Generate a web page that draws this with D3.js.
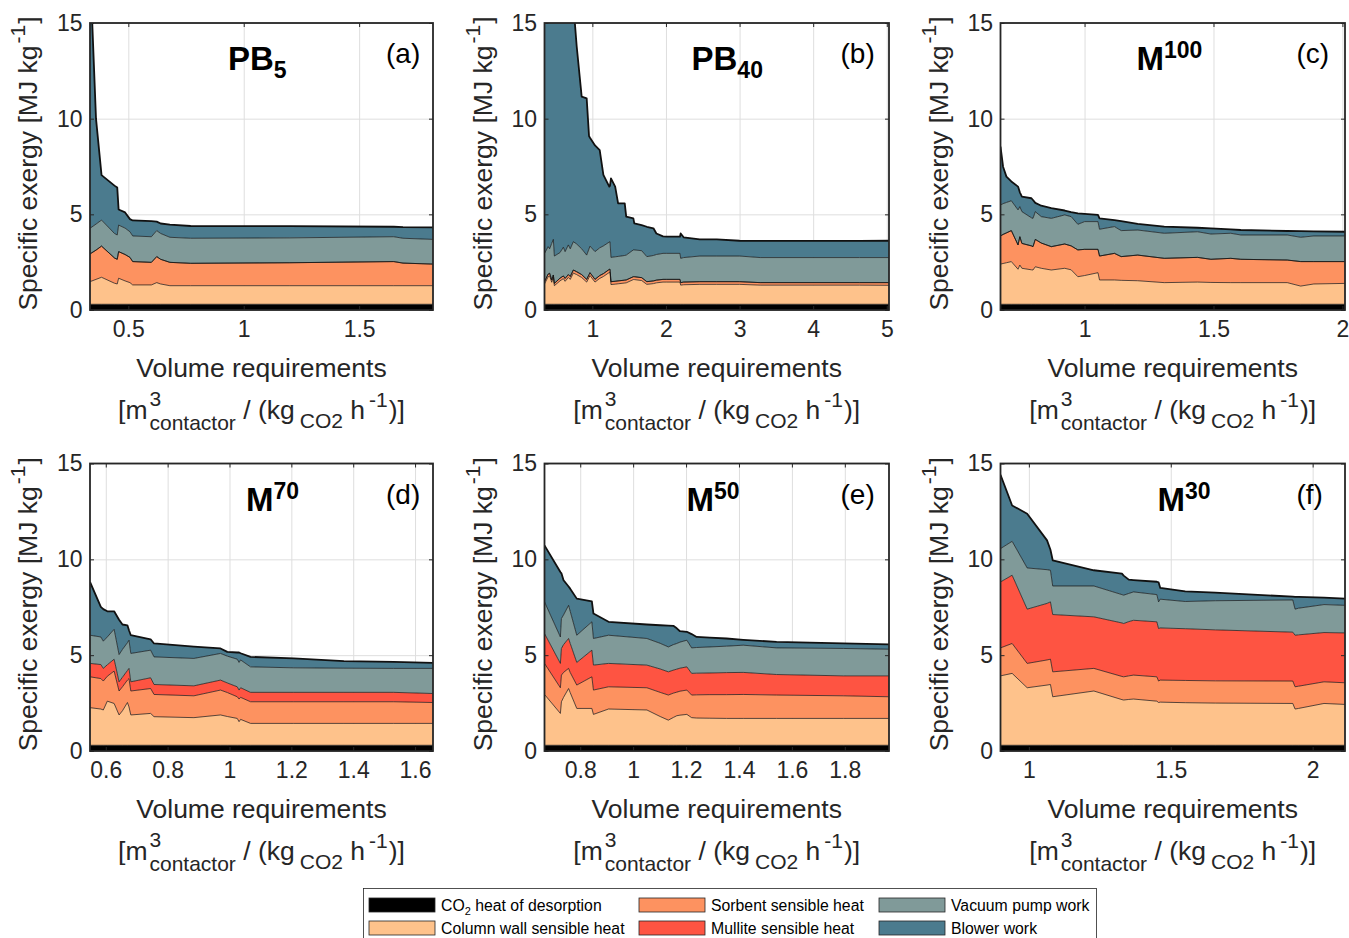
<!DOCTYPE html>
<html>
<head>
<meta charset="utf-8">
<script src="https://cdn.jsdelivr.net/npm/d3@7"></script>
<style>
  html, body { margin: 0; padding: 0; background: #fff; }
  svg { display: block; font-family: "Liberation Sans", Arial, Helvetica, sans-serif; }
</style>
</head>
<body>
<svg id="fig" width="1349" height="938"></svg>
<script>
// ---------- Stacked exergy components [MJ kg-1] vs. volume requirement ----------

// (a) PB5
const aX    = [0.334, 0.36, 0.384, 0.44, 0.452, 0.458, 0.486, 0.507, 0.519, 0.60, 0.623, 0.64, 0.68, 0.77, 1.2, 1.65, 1.69, 1.82];
const aCo2  = [0.3, 0.3, 0.3, 0.3, 0.3, 0.3, 0.3, 0.3, 0.3, 0.3, 0.3, 0.3, 0.3, 0.3, 0.3, 0.3, 0.3, 0.3];
const aWall = [1.18, 1.30, 1.41, 1.10, 1.06, 1.36, 1.22, 1.13, 1.01, 1.01, 1.13, 1.06, 0.97, 0.97, 0.97, 0.97, 0.97, 0.97];
const aSorb = [1.45, 1.53, 1.63, 1.32, 1.29, 1.39, 1.38, 1.32, 1.22, 1.18, 1.36, 1.29, 1.22, 1.17, 1.20, 1.26, 1.18, 1.13];
const aMull = [0, 0, 0, 0, 0, 0, 0, 0, 0, 0, 0, 0, 0, 0, 0, 0, 0, 0];
const aVac  = [1.34, 1.36, 1.36, 1.28, 1.27, 1.39, 1.38, 1.34, 1.34, 1.34, 1.36, 1.35, 1.31, 1.31, 1.30, 1.30, 1.30, 1.29];
const aBlow = [13.73, 5.51, 2.35, 2.5, 2.48, 0.81, 0.82, 0.66, 0.81, 0.81, 0.47, 0.52, 0.66, 0.64, 0.61, 0.52, 0.58, 0.63];

// (b) PB40
const bX    = [0.35, 0.40, 0.42, 0.448, 0.47, 0.484, 0.56, 0.606, 0.63, 0.674, 0.70, 0.742, 0.787, 0.855, 0.923, 0.955, 0.968, 1.036, 1.10, 1.15, 1.23, 1.24, 1.253, 1.31, 1.35, 1.44, 1.46, 1.557, 1.57, 1.67, 1.74, 1.83, 1.87, 1.96, 2.01, 2.19, 2.20, 2.24, 2.46, 2.69, 3.0, 3.28, 4.63, 5.03];
const bCo2  = [0.3, 0.3, 0.3, 0.3, 0.3, 0.3, 0.3, 0.3, 0.3, 0.3, 0.3, 0.3, 0.3, 0.3, 0.3, 0.3, 0.3, 0.3, 0.3, 0.3, 0.3, 0.3, 0.3, 0.3, 0.3, 0.3, 0.3, 0.3, 0.3, 0.3, 0.3, 0.3, 0.3, 0.3, 0.3, 0.3, 0.3, 0.3, 0.3, 0.3, 0.3, 0.3, 0.3, 0.3];
const bWall = [1.06, 1.44, 1.48, 1.15, 1.40, 0.97, 1.22, 1.34, 1.20, 1.40, 1.30, 1.63, 1.55, 1.40, 1.16, 1.40, 1.50, 1.16, 1.35, 1.45, 1.66, 1.67, 1.03, 1.05, 1.07, 1.11, 1.12, 1.29, 1.29, 1.24, 1.04, 1.08, 1.12, 1.16, 1.16, 1.16, 1.00, 1.02, 1.04, 1.04, 1.04, 1.00, 1.00, 0.99];
const bSorb = [0.12, 0.14, 0.14, 0.12, 0.13, 0.12, 0.14, 0.14, 0.15, 0.15, 0.15, 0.16, 0.15, 0.15, 0.14, 0.15, 0.15, 0.14, 0.15, 0.15, 0.16, 0.16, 0.15, 0.15, 0.15, 0.15, 0.15, 0.15, 0.15, 0.15, 0.14, 0.14, 0.14, 0.14, 0.14, 0.14, 0.13, 0.14, 0.14, 0.14, 0.14, 0.13, 0.13, 0.14];
const bMull = [0, 0, 0, 0, 0, 0, 0, 0, 0, 0, 0, 0, 0, 0, 0, 0, 0, 0, 0, 0, 0, 0, 0, 0, 0, 0, 0, 0, 0, 0, 0, 0, 0, 0, 0, 0, 0, 0, 0, 0, 0, 0, 0, 0];
const bVac  = [1.48, 1.43, 1.28, 1.91, 1.86, 1.43, 1.34, 1.50, 1.40, 1.55, 1.45, 1.48, 1.45, 1.35, 1.27, 1.35, 1.39, 1.45, 1.45, 1.45, 1.43, 1.44, 1.27, 1.28, 1.28, 1.29, 1.30, 1.40, 1.40, 1.41, 1.31, 1.33, 1.34, 1.36, 1.36, 1.36, 1.27, 1.28, 1.34, 1.34, 1.34, 1.31, 1.31, 1.31];
const bBlow = [27.04, 23.69, 22.8, 21.52, 20.31, 20.68, 18.0, 16.72, 16.45, 15.6, 14.8, 12.43, 10.35, 7.95, 8.19, 5.89, 5.66, 5.55, 5.11, 3.71, 2.90, 2.93, 4.13, 3.67, 2.77, 2.72, 2.01, 1.65, 1.39, 1.34, 1.56, 1.42, 1.10, 0.89, 0.87, 0.87, 1.30, 1.06, 0.87, 0.87, 0.80, 0.87, 0.87, 0.88];

// (c) M100
const cX    = [0.674, 0.684, 0.697, 0.716, 0.742, 0.749, 0.757, 0.794, 0.80, 0.809, 0.832, 0.871, 0.923, 0.948, 0.974, 1.0, 1.052, 1.058, 1.116, 1.142, 1.206, 1.309, 1.438, 1.49, 1.567, 1.606, 1.786, 1.838, 1.889, 2.01];
const cCo2  = [0.3, 0.3, 0.3, 0.3, 0.3, 0.3, 0.3, 0.3, 0.3, 0.3, 0.3, 0.3, 0.3, 0.3, 0.3, 0.3, 0.3, 0.3, 0.3, 0.3, 0.3, 0.3, 0.3, 0.3, 0.3, 0.3, 0.3, 0.3, 0.3, 0.3];
const cWall = [2.10, 2.13, 2.17, 2.23, 1.83, 2.05, 1.88, 1.80, 1.79, 1.96, 1.88, 1.79, 1.88, 1.80, 1.44, 1.50, 1.65, 1.27, 1.27, 1.25, 1.23, 1.13, 1.16, 1.14, 1.13, 1.13, 1.13, 0.95, 1.06, 1.09];
const cSorb = [1.47, 1.52, 1.56, 1.62, 1.27, 1.48, 1.30, 1.25, 1.22, 1.43, 1.32, 1.22, 1.27, 1.25, 1.40, 1.37, 1.22, 1.25, 1.39, 1.24, 1.34, 1.27, 1.29, 1.21, 1.27, 1.22, 1.18, 1.28, 1.17, 1.14];
const cMull = [0, 0, 0, 0, 0, 0, 0, 0, 0, 0, 0, 0, 0, 0, 0, 0, 0, 0, 0, 0, 0, 0, 0, 0, 0, 0, 0, 0, 0, 0];
const cVac  = [1.62, 1.61, 1.59, 1.56, 1.83, 1.57, 1.66, 1.47, 1.48, 1.45, 1.38, 1.48, 1.52, 1.53, 1.34, 1.45, 1.45, 1.40, 1.40, 1.36, 1.31, 1.31, 1.34, 1.32, 1.31, 1.27, 1.31, 1.27, 1.34, 1.34];
const cBlow = [3.05, 1.93, 1.35, 1.01, 1.22, 0.75, 0.78, 1.02, 0.96, 0.46, 0.57, 0.53, 0.23, 0.24, 0.57, 0.40, 0.35, 0.57, 0.34, 0.50, 0.32, 0.35, 0.21, 0.30, 0.20, 0.26, 0.21, 0.32, 0.24, 0.22];

// (d) M70
const dX    = [0.549, 0.584, 0.592, 0.605, 0.627, 0.643, 0.654, 0.67, 0.675, 0.681, 0.745, 0.756, 0.885, 0.971, 0.993, 1.025, 1.031, 1.036, 1.068, 1.208, 1.37, 1.531, 1.658];
const dCo2  = [0.3, 0.3, 0.3, 0.3, 0.3, 0.3, 0.3, 0.3, 0.3, 0.3, 0.3, 0.3, 0.3, 0.3, 0.3, 0.3, 0.3, 0.3, 0.3, 0.3, 0.3, 0.3, 0.3];
const dWall = [1.96, 1.89, 1.84, 2.30, 2.18, 1.58, 1.80, 2.23, 2.00, 1.58, 1.66, 1.49, 1.44, 1.58, 1.50, 1.40, 1.23, 1.35, 1.14, 1.14, 1.14, 1.14, 1.14];
const dSorb = [1.61, 1.59, 1.51, 1.30, 1.69, 1.25, 1.25, 1.17, 1.48, 1.25, 1.30, 1.16, 1.14, 1.30, 1.25, 1.13, 1.18, 1.15, 1.13, 1.13, 1.13, 1.13, 1.09];
const dMull = [0.70, 0.73, 0.66, 0.60, 0.62, 0.48, 0.50, 0.50, 0.53, 0.48, 0.56, 0.52, 0.52, 0.52, 0.50, 0.52, 0.47, 0.50, 0.49, 0.49, 0.49, 0.49, 0.47];
const dVac  = [1.47, 1.44, 1.42, 1.45, 1.56, 1.42, 1.45, 1.45, 1.47, 1.48, 1.44, 1.44, 1.43, 1.39, 1.40, 1.44, 1.44, 1.45, 1.33, 1.28, 1.26, 1.25, 1.31];
const dBlow = [2.78, 1.57, 1.67, 1.34, 0.94, 1.82, 1.30, 0.91, 0.52, 0.95, 0.57, 0.70, 0.62, 0.26, 0.22, 0.35, 0.52, 0.35, 0.52, 0.49, 0.37, 0.34, 0.29];

// (e) M50
const eX    = [0.665, 0.725, 0.729, 0.737, 0.756, 0.762, 0.787, 0.844, 0.85, 0.907, 1.052, 1.102, 1.133, 1.152, 1.165, 1.177, 1.203, 1.221, 1.24, 1.29, 1.353, 1.416, 1.542, 1.794, 1.967];
const eCo2  = [0.3, 0.3, 0.3, 0.3, 0.3, 0.3, 0.3, 0.3, 0.3, 0.3, 0.3, 0.3, 0.3, 0.3, 0.3, 0.3, 0.3, 0.3, 0.3, 0.3, 0.3, 0.3, 0.3, 0.3, 0.3];
const eWall = [2.65, 1.66, 2.27, 2.50, 2.96, 2.75, 1.92, 1.92, 1.61, 1.89, 1.84, 1.50, 1.31, 1.45, 1.54, 1.57, 1.61, 1.44, 1.42, 1.41, 1.40, 1.40, 1.40, 1.40, 1.40];
const eSorb = [1.62, 1.34, 1.39, 1.30, 1.05, 1.05, 1.22, 1.65, 1.27, 1.16, 1.16, 1.26, 1.31, 1.27, 1.23, 1.25, 1.27, 1.18, 1.21, 1.23, 1.24, 1.25, 1.22, 1.18, 1.13];
const eMull = [1.56, 1.27, 1.39, 1.45, 1.56, 1.52, 1.18, 1.39, 1.30, 1.22, 1.18, 1.22, 1.21, 1.20, 1.20, 1.20, 1.21, 1.13, 1.13, 1.13, 1.15, 1.15, 1.07, 1.04, 1.09];
const eVac  = [1.65, 1.38, 1.56, 1.55, 1.73, 1.68, 1.42, 1.48, 1.39, 1.47, 1.39, 1.34, 1.30, 1.33, 1.34, 1.36, 1.39, 1.33, 1.34, 1.36, 1.38, 1.42, 1.39, 1.43, 1.39];
const eBlow = [2.95, 3.39, 2.36, 1.81, 0.98, 1.17, 1.91, 1.07, 1.30, 0.70, 0.73, 0.94, 1.11, 0.98, 0.79, 0.57, 0.44, 0.72, 0.55, 0.48, 0.40, 0.28, 0.31, 0.26, 0.25];

// (f) M30
const fX    = [0.90, 0.941, 0.994, 1.064, 1.076, 1.084, 1.229, 1.328, 1.334, 1.352, 1.369, 1.451, 1.457, 1.463, 1.551, 1.657, 1.93, 1.938, 1.95, 2.04, 2.114];
const fCo2  = [0.3, 0.3, 0.3, 0.3, 0.3, 0.3, 0.3, 0.3, 0.3, 0.3, 0.3, 0.3, 0.3, 0.3, 0.3, 0.3, 0.3, 0.3, 0.3, 0.3, 0.3];
const fWall = [3.62, 3.75, 3.00, 3.14, 3.17, 2.53, 2.83, 2.38, 2.36, 2.39, 2.41, 2.30, 2.23, 2.25, 2.22, 2.20, 2.18, 1.89, 1.92, 2.18, 2.13];
const fSorb = [1.46, 1.56, 1.27, 1.31, 1.32, 1.30, 1.18, 1.21, 1.21, 1.23, 1.25, 1.27, 1.12, 1.15, 1.16, 1.16, 1.17, 1.16, 1.16, 1.13, 1.13];
const fMull = [3.44, 3.56, 2.83, 2.95, 2.99, 2.99, 2.69, 2.79, 2.78, 2.83, 2.86, 2.87, 2.74, 2.72, 2.70, 2.66, 2.55, 2.69, 2.68, 2.57, 2.60];
const fVac  = [1.74, 1.77, 2.15, 1.76, 1.65, 1.49, 1.61, 1.48, 1.48, 1.47, 1.48, 1.42, 1.39, 1.50, 1.42, 1.52, 1.68, 1.36, 1.39, 1.46, 1.44];
const fBlow = [3.85, 1.87, 2.83, 1.53, 1.07, 1.34, 0.82, 1.09, 1.02, 0.72, 0.62, 0.67, 1.02, 0.59, 0.53, 0.42, 0.17, 0.64, 0.59, 0.36, 0.35];

// Axis ticks
const yTicks = [0, 5, 10, 15];
const aTicks = [0.5, 1, 1.5];
const bTicks = [1, 2, 3, 4, 5];
const cTicks = [1, 1.5, 2];
const dTicks = [0.6, 0.8, 1, 1.2, 1.4, 1.6];
const eTicks = [0.8, 1, 1.2, 1.4, 1.6, 1.8];
const fTicks = [1, 1.5, 2];

// Stack order (bottom to top) and legend entries
const KEYS = ['co2', 'wall', 'sorb', 'mull', 'vac', 'blow'];
const legendLabels = {
  co2: 'CO2 heat of desorption',
  wall: 'Column wall sensible heat',
  sorb: 'Sorbent sensible heat',
  mull: 'Mullite sensible heat',
  vac: 'Vacuum pump work',
  blow: 'Blower work'
};
const COLORS = { co2: '#000000', wall: '#fec28b', sorb: '#fd9260', mull: '#fe5442', vac: '#809a99', blow: '#4b7b8e' };

const panels = [
  { x: aX, s: { co2: aCo2, wall: aWall, sorb: aSorb, mull: aMull, vac: aVac, blow: aBlow }, domain: [0.334, 1.82], ticks: aTicks, col: 0, row: 0, title: 'PB', script: '5', sup: false, tdx: 138, tag: '(a)' },
  { x: bX, s: { co2: bCo2, wall: bWall, sorb: bSorb, mull: bMull, vac: bVac, blow: bBlow }, domain: [0.35, 5.03], ticks: bTicks, col: 1, row: 0, title: 'PB', script: '40', sup: false, tdx: 147, tag: '(b)' },
  { x: cX, s: { co2: cCo2, wall: cWall, sorb: cSorb, mull: cMull, vac: cVac, blow: cBlow }, domain: [0.674, 2.01], ticks: cTicks, col: 2, row: 0, title: 'M', script: '100', sup: true, tdx: 136, tag: '(c)' },
  { x: dX, s: { co2: dCo2, wall: dWall, sorb: dSorb, mull: dMull, vac: dVac, blow: dBlow }, domain: [0.549, 1.658], ticks: dTicks, col: 0, row: 1, title: 'M', script: '70', sup: true, tdx: 156, tag: '(d)' },
  { x: eX, s: { co2: eCo2, wall: eWall, sorb: eSorb, mull: eMull, vac: eVac, blow: eBlow }, domain: [0.665, 1.967], ticks: eTicks, col: 1, row: 1, title: 'M', script: '50', sup: true, tdx: 142, tag: '(e)' },
  { x: fX, s: { co2: fCo2, wall: fWall, sorb: fSorb, mull: fMull, vac: fVac, blow: fBlow }, domain: [0.90, 2.114], ticks: fTicks, col: 2, row: 1, title: 'M', script: '30', sup: true, tdx: 157, tag: '(f)' }
];

// ---------- layout ----------
const colL = [90, 544.5, 1000.5], colR = [433, 889, 1345];
const rowT = [23, 463.5], rowB = [310, 751];
const INK = '#262626';
const TICK_FS = 23, LABEL_FS = 26.5, SCRIPT_FS = 21;

const svg = d3.select('#fig');
const defs = svg.append('defs');

// Lays out a line of text made of pieces with their own size, baseline shift and
// leading gap, centred on cx. A piece marked stack:'start' and the following
// stack:'end' share the same x (superscript above subscript).
function richLine(parent, pieces, cx, baseY) {
  const g = parent.append('g');
  let x = 0, sx = 0, sw = 0;
  pieces.forEach(p => {
    const t = g.append('text')
      .attr('font-size', p.size)
      .attr('y', baseY + (p.dy || 0))
      .attr('fill', INK)
      .style('white-space', 'pre')
      .text(p.text);
    const w = t.node().getComputedTextLength();
    if (p.stack !== 'end') x += (p.gap || 0);
    if (p.stack === 'start') { t.attr('x', x); sx = x; sw = w; }
    else if (p.stack === 'end') { t.attr('x', sx); x = sx + Math.max(sw, w); }
    else { t.attr('x', x); x += w; }
  });
  g.attr('transform', `translate(${cx - x / 2},0)`);
  return g;
}

panels.forEach((p, i) => {
  const L = colL[p.col], R = colR[p.col], T = rowT[p.row], B = rowB[p.row];
  const xs = d3.scaleLinear().domain(p.domain).range([L, R]);
  const ys = d3.scaleLinear().domain([0, 15]).range([B, T]);
  const g = svg.append('g');

  const cid = 'clip' + i;
  defs.append('clipPath').attr('id', cid)
    .append('rect').attr('x', L).attr('y', T).attr('width', R - L).attr('height', B - T);

  // grid
  const gx = g.append('g').attr('transform', `translate(0,${B})`)
    .call(d3.axisBottom(xs).tickValues(p.ticks).tickSize(-(B - T)).tickFormat(''));
  const gy = g.append('g').attr('transform', `translate(${L},0)`)
    .call(d3.axisLeft(ys).tickValues(yTicks).tickSize(-(R - L)).tickFormat(''));
  [gx, gy].forEach(a => {
    a.select('.domain').remove();
    a.selectAll('line').attr('stroke', '#dedede').attr('stroke-width', 1);
  });

  // stacked areas
  const rows = p.x.map((xv, j) => {
    const r = { x: xv };
    KEYS.forEach(k => { r[k] = p.s[k][j]; });
    return r;
  });
  const stacked = d3.stack().keys(KEYS)(rows);
  const area = d3.area().x(d => xs(d.data.x)).y0(d => ys(d[0])).y1(d => ys(d[1]));
  const edge = d3.line().x(d => xs(d.data.x)).y(d => ys(d[1]));
  const dg = g.append('g').attr('clip-path', `url(#${cid})`);
  dg.selectAll('path.band').data(stacked).join('path').attr('class', 'band')
    .attr('d', area).attr('fill', d => COLORS[d.key]);
  dg.selectAll('path.edge').data(stacked).join('path').attr('class', 'edge')
    .attr('d', edge).attr('fill', 'none').attr('stroke', '#111')
    .attr('stroke-linejoin', 'round')
    .attr('stroke-width', (d, j) => j === KEYS.length - 1 ? 1.8 : 0.7);

  // axes with inward ticks
  const styleAxis = a => {
    a.select('.domain').remove();
    a.attr('font-size', TICK_FS).attr('font-family', null).attr('color', INK);
    a.selectAll('line').attr('stroke', INK).attr('stroke-width', 1);
  };
  styleAxis(g.append('g').attr('transform', `translate(0,${B})`)
    .call(d3.axisBottom(xs).tickValues(p.ticks).tickSize(-4).tickPadding(10.5).tickFormat(d => String(d))));
  styleAxis(g.append('g').attr('transform', `translate(${L},0)`)
    .call(d3.axisLeft(ys).tickValues(yTicks).tickSize(-4).tickPadding(7.5).tickFormat(d => String(d))));
  styleAxis(g.append('g').attr('transform', `translate(0,${T})`)
    .call(d3.axisTop(xs).tickValues(p.ticks).tickSize(-4).tickFormat('')));
  styleAxis(g.append('g').attr('transform', `translate(${R},0)`)
    .call(d3.axisRight(ys).tickValues(yTicks).tickSize(-4).tickFormat('')));

  // frame
  g.append('rect').attr('x', L).attr('y', T).attr('width', R - L).attr('height', B - T)
    .attr('fill', 'none').attr('stroke', INK).attr('stroke-width', 1.8);

  // panel title and tag
  const tt = g.append('text').attr('x', L + p.tdx).attr('y', T + 47)
    .attr('font-weight', 'bold').attr('fill', '#000');
  tt.append('tspan').attr('font-size', 33).text(p.title);
  tt.append('tspan').attr('font-size', 23).attr('dy', p.sup ? -12 : 8).text(p.script);
  g.append('text').attr('x', L + 296).attr('y', T + 40).attr('font-size', 28)
    .attr('fill', '#000').text(p.tag);

  // x label
  const cx = (L + R) / 2;
  richLine(g, [{ text: 'Volume requirements', size: LABEL_FS }], cx, B + 67);
  richLine(g, [
    { text: '[m', size: LABEL_FS },
    { text: '3', size: SCRIPT_FS, dy: -13, stack: 'start', gap: 2 },
    { text: 'contactor', size: SCRIPT_FS, dy: 11, stack: 'end' },
    { text: ' / (kg', size: LABEL_FS },
    { text: 'CO2', size: SCRIPT_FS, dy: 9, gap: 5 },
    { text: ' h', size: LABEL_FS },
    { text: '-1', size: SCRIPT_FS, dy: -12, gap: 4 },
    { text: ')]', size: LABEL_FS, gap: 1 }
  ], cx, B + 109);

  // y label
  const yl = g.append('g').attr('transform', `translate(${L - 53},${(T + B) / 2 - 3}) rotate(-90)`);
  richLine(yl, [
    { text: 'Specific exergy [MJ kg', size: LABEL_FS },
    { text: '-1', size: SCRIPT_FS, dy: -12, gap: 2 },
    { text: ']', size: LABEL_FS, gap: 1 }
  ], 0, 0);
});

// ---------- legend ----------
const lg = svg.append('g');
lg.append('rect').attr('x', 363.5).attr('y', 888.5).attr('width', 733).attr('height', 60)
  .attr('fill', '#fff').attr('stroke', INK).attr('stroke-width', 0.8);
const legendOrder = [['co2', 'wall'], ['sorb', 'mull'], ['vac', 'blow']];
const legendColX = [369, 639, 879];
const legendRowY = [898, 921];
legendOrder.forEach((colKeys, ci) => {
  colKeys.forEach((k, ri) => {
    const x = legendColX[ci], y = legendRowY[ri];
    lg.append('rect').attr('x', x).attr('y', y).attr('width', 66).attr('height', 14)
      .attr('fill', COLORS[k]).attr('stroke', INK).attr('stroke-width', 0.8);
    const t = lg.append('text').attr('x', x + 72).attr('y', y + 12.5)
      .attr('font-size', 15.8).attr('fill', '#000');
    if (k === 'co2') {
      t.append('tspan').text('CO');
      t.append('tspan').attr('font-size', 11).attr('dy', 4).text('2');
      t.append('tspan').attr('dy', -4).style('white-space', 'pre').text(' heat of desorption');
    } else {
      t.text(legendLabels[k]);
    }
  });
});
</script>
</body>
</html>
